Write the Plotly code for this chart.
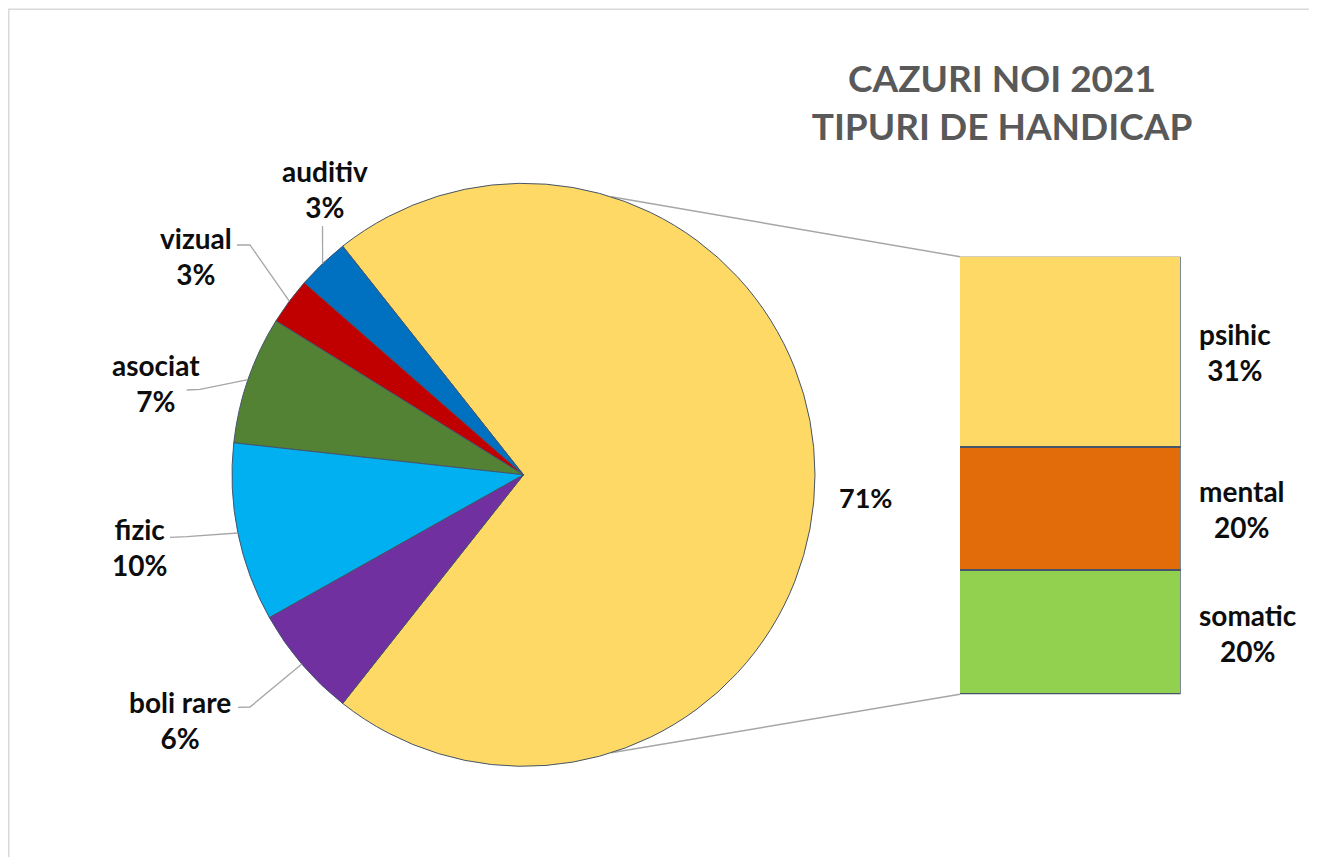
"""Cazuri noi 2021 - tipuri de handicap (pie + bar of pie)."""

import math

import plotly.graph_objects as go

# --- data -------------------------------------------------------------
SMALL_LABELS = ["auditiv", "vizual", "asociat", "fizic", "boli rare"]
SMALL_VALUES = [2.9, 2.6, 7.1, 9.9, 6.2]
SMALL_COLORS = ["#0070C0", "#C00000", "#548235", "#00B0F0", "#7030A0"]

BAR_LABELS = ["psihic", "mental", "somatic"]
BAR_VALUES = [31.1, 20.1, 20.1]
BAR_COLORS = ["#FFD966", "#E26B0A", "#92D050"]

OTHER_LABEL = "psihic, mental, somatic"
TITLE_LINES = ["CAZURI NOI 2021", "TIPURI DE HANDICAP"]

# --- layout (pixels of the figure) ------------------------------------
W, H = 1301, 849
PIE_CX, PIE_CY, PIE_R = 515.5, 466.8, 291.5
BAR_X0, BAR_X1, BAR_Y0, BAR_Y1 = 952, 1172.7, 248.7, 686.3
CONNECT_ANGLE = 72.5  # where the grey connectors leave the pie

# label block centres and leader elbows for the small slices
LABEL_POS = {
    "auditiv": (316.5, 181),
    "vizual": (188, 248),
    "asociat": (147.5, 375),
    "fizic": (131, 539),
    "boli rare": (172, 711.5),
}
LEADER_PTS = {
    "auditiv": [(314.5, 218)],
    "vizual": [(229, 237), (242, 237)],
    "asociat": [(178.7, 382), (192, 381.3)],
    "fizic": [(162, 529.3), (178.7, 528.7)],
    "boli rare": [(230, 699.3), (242, 699)],
}
OTHER_LABEL_POS = (857, 489)

FONT = "Lato, 'Open Sans', sans-serif"
TXT = "#0D0D0D"
EDGE = "#44546A"
GREY = "#A6A6A6"


def px(x):
    return x / W


def py(y):
    return 1 - y / H


def pie_point(angle_deg):
    a = math.radians(angle_deg)
    return PIE_CX + PIE_R * math.cos(a), PIE_CY - PIE_R * math.sin(a)


other = sum(BAR_VALUES)
total = other + sum(SMALL_VALUES)
pct = lambda v: f"{v / total * 100:.0f}%"

half = other / total * 180.0  # other slice is centred on 3 o'clock

fig = go.Figure()

# counterclockwise: the first slice ends at `rotation`, the rest follow on
fig.add_trace(
    go.Pie(
        labels=[OTHER_LABEL] + SMALL_LABELS,
        values=[other] + SMALL_VALUES,
        marker=dict(colors=[BAR_COLORS[0]] + SMALL_COLORS, line=dict(color=EDGE, width=1)),
        sort=False,
        direction="counterclockwise",
        rotation=90 - half,
        textinfo="none",
        textposition="none",
        showlegend=False,
        domain=dict(
            x=[px(PIE_CX - PIE_R), px(PIE_CX + PIE_R)],
            y=[py(PIE_CY + PIE_R), py(PIE_CY - PIE_R)],
        ),
    )
)

# stacked bar, bottom up
for lab, val, col in reversed(list(zip(BAR_LABELS, BAR_VALUES, BAR_COLORS))):
    fig.add_trace(
        go.Bar(
            x=[0],
            y=[val],
            width=[1],
            name=lab,
            marker=dict(color=col, line=dict(color=EDGE, width=1.5)),
            showlegend=False,
        )
    )

shapes = []
annotations = []

# chart frame (right/bottom edges fall outside the page)
shapes.append(dict(type="rect", xref="paper", yref="paper", x0=px(0.75), x1=1.05,
                   y0=-0.05, y1=py(1.25), line=dict(color="#D9D9D9", width=1.5)))

# pie -> bar connectors
for sign, yb in ((1, BAR_Y0), (-1, BAR_Y1)):
    x0, y0 = pie_point(sign * CONNECT_ANGLE)
    shapes.append(dict(type="line", xref="paper", yref="paper",
                       x0=px(x0), y0=py(y0), x1=px(BAR_X0), y1=py(yb),
                       line=dict(color=GREY, width=1.5), layer="below"))

# small slice labels with leader lines
ang = half
for lab, val in zip(SMALL_LABELS, SMALL_VALUES):
    span = val / total * 360
    mid = ang + span / 2
    ang += span
    ex, ey = pie_point(mid)
    pts = LEADER_PTS[lab] + [(ex, ey)]
    path = "M " + " L ".join(f"{px(x)},{py(y)}" for x, y in pts)
    shapes.append(dict(type="path", xref="paper", yref="paper", path=path,
                       line=dict(color=GREY, width=1.3)))
    lx, ly = LABEL_POS[lab]
    annotations.append(dict(x=px(lx), y=py(ly), xref="paper", yref="paper",
                            text=f"<b>{lab}<br>{pct(val)}</b>", showarrow=False,
                            align="center", xanchor="center", yanchor="middle",
                            font=dict(family=FONT, size=28, color=TXT)))

annotations.append(dict(x=px(OTHER_LABEL_POS[0]), y=py(OTHER_LABEL_POS[1]),
                        xref="paper", yref="paper", text=f"<b>{pct(other)}</b>",
                        showarrow=False, xanchor="center", yanchor="middle",
                        font=dict(family=FONT, size=27, color=TXT)))

# bar labels, to the right of each segment
base = 0
for lab, val in reversed(list(zip(BAR_LABELS, BAR_VALUES))):
    annotations.append(dict(x=0.5, y=base + val / 2, xref="x", yref="y",
                            text=f"<b>{lab}<br>{pct(val)}</b>", showarrow=False,
                            align="center", xanchor="left", yanchor="middle", xshift=16,
                            font=dict(family=FONT, size=28, color=TXT)))
    base += val

fig.update_layout(
    width=W,
    height=H,
    margin=dict(l=0, r=0, t=0, b=0),
    paper_bgcolor="white",
    plot_bgcolor="white",
    barmode="stack",
    bargap=0,
    title=dict(
        text="<b>" + "<br>".join(TITLE_LINES) + "</b>",
        x=px(994), y=py(84), xanchor="center", yanchor="middle",
        font=dict(family=FONT, size=37, color="#595959"),
    ),
    xaxis=dict(domain=[px(BAR_X0), px(BAR_X1)], range=[-0.5, 0.5], visible=False,
               fixedrange=True),
    yaxis=dict(domain=[py(BAR_Y1), py(BAR_Y0)], range=[0, other], visible=False,
               fixedrange=True),
    shapes=shapes,
    annotations=annotations,
)

fig.write_html("out.html")
